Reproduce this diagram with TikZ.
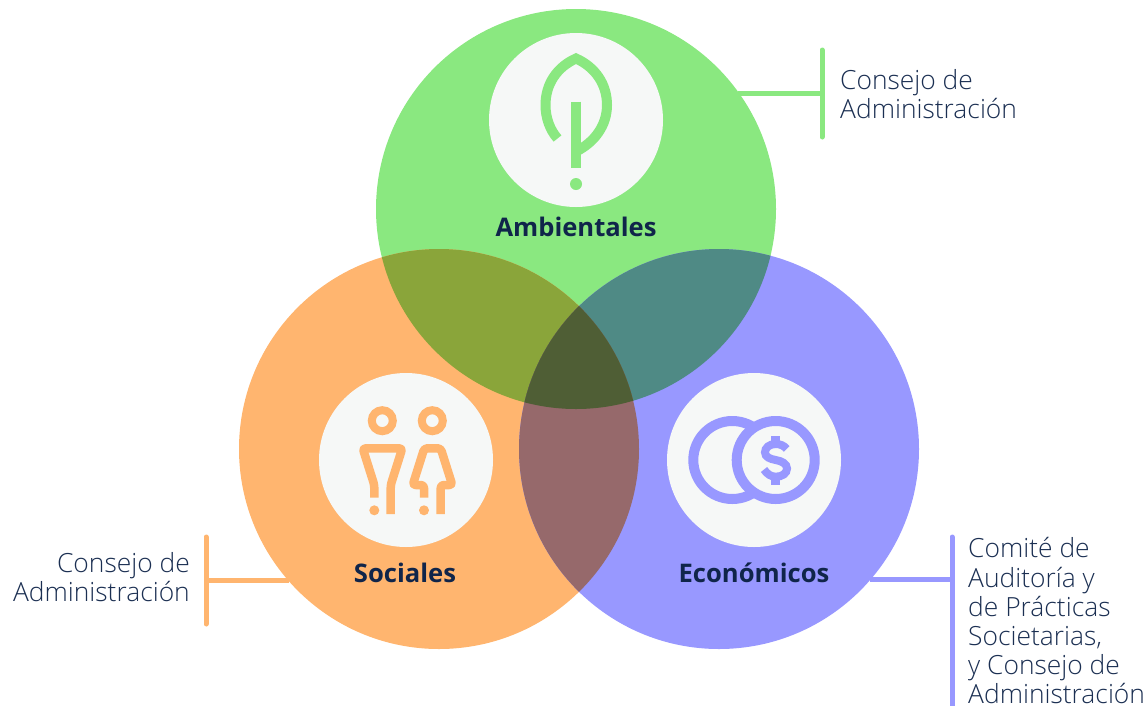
\documentclass[tikz,border=0pt]{standalone}
\usepackage{fontspec}
\setmainfont{Open Sans Light}[BoldFont={Open Sans Bold}]
\definecolor{cgreen}{HTML}{8AE880}
\definecolor{corange}{HTML}{FFB56F}
\definecolor{cpurple}{HTML}{9898FF}
\definecolor{cgo}{HTML}{8AA53A}
\definecolor{cgp}{HTML}{4F8A85}
\definecolor{cop}{HTML}{96696B}
\definecolor{cgop}{HTML}{4F5E35}
\definecolor{cwhite}{HTML}{F6F8F7}
\definecolor{ctext}{HTML}{1B2F52}
\definecolor{cbold}{HTML}{10254A}
\tikzset{
  bigc/.style={circle,minimum size=400pt,inner sep=0pt,outer sep=0pt},
  iconc/.style={circle,minimum size=174pt,inner sep=0pt,outer sep=0pt,fill=cwhite},
  lab/.style={text=ctext,font=\fontsize{26.4}{29.2}\selectfont,inner sep=0pt},
  head/.style={text=cbold,font=\fontsize{25.6}{29}\selectfont\bfseries,inner sep=0pt},
  bar/.style={line width=5pt,line cap=round},
  arm/.style={line width=5pt},
  ico/.style={line width=8.5pt,line join=round,fill=none}
}
\begin{document}
\begin{tikzpicture}[x=1pt,y=-1pt]
\useasboundingbox (0,0) rectangle (1148,705);
\node[bigc,fill=cgreen] (green) at (576,209) {};
\node[bigc,fill=corange] (orange) at (439,449) {};
\node[bigc,fill=cpurple] (purple) at (719,449) {};
\begin{scope}
  \clip (green.center) circle[radius=200pt];
  \fill[cgo] (orange.center) circle[radius=200pt];
  \fill[cgp] (purple.center) circle[radius=200pt];
  \clip (orange.center) circle[radius=200pt];
  \fill[cgop] (purple.center) circle[radius=200pt];
\end{scope}
\begin{scope}
  \clip (orange.center) circle[radius=200pt];
  \clip (purple.center) circle[radius=200pt];
  \fill[cop] (439,100) rectangle (719,700);
  \clip (green.center) circle[radius=200pt];
  \fill[cgop] (439,100) rectangle (719,700);
\end{scope}
\node[iconc] (wgreen) at (576,120) {};
\node[iconc] (worange) at (406,460) {};
\node[iconc] (wpurple) at (754,460) {};
% leaf
\draw[cgreen,line width=10pt,miter limit=10]
  (557.5,138.5) .. controls (550,130) and (545.5,118) .. (545.5,105)
  .. controls (545.5,84) and (557,67) .. (576,58.5)
  .. controls (595,67) and (607,84) .. (607,105)
  .. controls (607,125) and (595,142) .. (576,151.5);
\draw[cgreen,line width=10pt] (576,101.7) -- (576,167.5);
\fill[cgreen] (576,184) circle[radius=6pt];
% people
\draw[corange,line width=8pt] (382.3,420.7) circle[radius=10.5pt];
\draw[corange,line width=8pt] (432.3,420.7) circle[radius=10.5pt];
\draw[corange,ico,rounded corners=3pt] (374.3,497.7) -- (374.3,485) -- (362.7,448.3) -- (402.3,448.3) -- (390.7,485) -- (390.7,514);
\draw[corange,ico,rounded corners=3pt] (424,497.7) -- (424,485) -- (412.7,485) -- (424.3,448.3) -- (440.7,448.3) -- (452.3,485) -- (440.7,485) -- (440.7,514);
\fill[corange] (374.3,510.3) circle[radius=5pt];
\fill[corange] (424,510.3) circle[radius=5pt];
% coins
\draw[cpurple,line width=10pt] (732.3,460) circle[radius=39pt];
\draw[cpurple,line width=10pt,fill=cwhite] (775.7,460) circle[radius=39pt];
\draw[cpurple,line width=8pt]
  (786.7,449) .. controls (784,445.5) and (780,444) .. (775.7,444)
  .. controls (769,444) and (765,448) .. (765,452.3)
  .. controls (765,457) and (770,459) .. (775.7,460)
  .. controls (782,461) and (787,464) .. (787,468.5)
  .. controls (787,473.5) and (782,476.7) .. (775.7,476.7)
  .. controls (771,476.7) and (767,474) .. (764,469.5);
\draw[cpurple,line width=9pt] (775.7,436) -- (775.7,445);
\draw[cpurple,line width=9pt] (775.7,475) -- (775.7,484.5);
% headings
\node[head] (tamb) at (576,227) {Ambientales};
\node[head] (tsoc) at (405,573) {Sociales};
\node[head] (teco) at (754,573) {Económicos};
% connectors
\coordinate (gt) at (822,50);
\coordinate (gb) at (822,137);
\coordinate (gm) at (822,93);
\coordinate (ga) at (738,93);
\draw[bar,cgreen] (gt) -- (gb);
\draw[arm,cgreen] (ga) -- (gm);
\coordinate (ot) at (206,537);
\coordinate (ob) at (206,624);
\coordinate (om) at (206,580);
\coordinate (oa) at (289,580);
\draw[bar,corange] (ot) -- (ob);
\draw[arm,corange] (oa) -- (om);
\coordinate (pt) at (952,537);
\coordinate (pb) at (952,712);
\coordinate (pm) at (952,579);
\coordinate (pa) at (870,579);
\draw[bar,cpurple] (pt) -- (pb);
\draw[arm,cpurple] (pa) -- (pm);
% labels
\node[lab,anchor=north west,align=left] (lgreen) at (840,69) {Consejo de\\Administración};
\node[lab,anchor=north east,align=right] (lorange) at (190,552.5) {Consejo de\\Administración};
\node[lab,anchor=north west,align=left] (lpurple) at (968,537.5) {Comité de\\Auditoría y\\de Prácticas\\Societarias,\\y Consejo de\\Administración};
\end{tikzpicture}
\end{document}
